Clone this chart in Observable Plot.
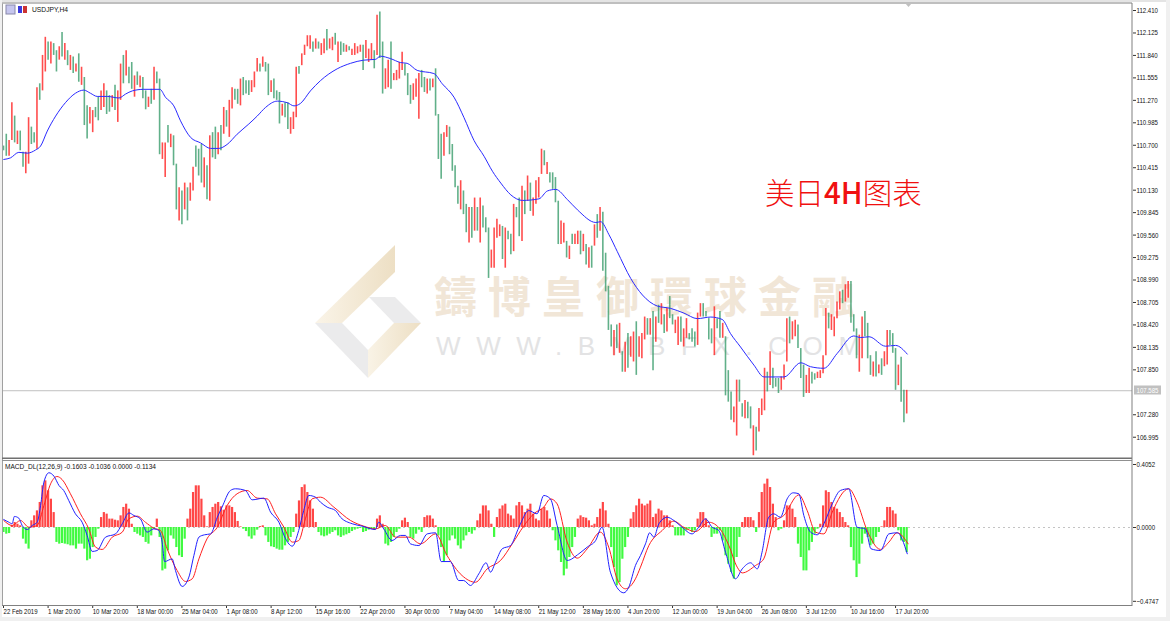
<!DOCTYPE html>
<html><head><meta charset="utf-8">
<script src="https://cdn.jsdelivr.net/npm/d3@7"></script>
<script src="https://cdn.jsdelivr.net/npm/@observablehq/plot@0.6"></script>
<style>
html,body{margin:0;padding:0;background:#fff;overflow:hidden}
#wrap{position:relative;width:1170px;height:621px;background:#fff;overflow:hidden;font-family:"Liberation Sans",sans-serif}
#wrap>svg,#wrap>div{position:absolute}
#wrap svg{background:transparent}
</style></head><body><div id="wrap">
<svg id="back" width="1170" height="621" style="left:0;top:0">
<defs>
<linearGradient id="b1" x1="0" x2="1" y1="0" y2="0"><stop offset="0" stop-color="#faf4e8"/><stop offset="1" stop-color="#eddfc4"/></linearGradient>
<linearGradient id="b2" x1="0" x2="1" y1="0" y2="0"><stop offset="0" stop-color="#f9f3e6"/><stop offset="1" stop-color="#eddfc4"/></linearGradient>
</defs>
<rect x="0" y="0" width="1170" height="2" fill="#e4e4e4"/>
<rect x="0" y="617" width="1170" height="4" fill="#f0f0f0"/>
<rect x="1166" y="0" width="4" height="621" fill="#f0f0f0"/>
<rect x="0" y="0" width="2" height="621" fill="#f0f0f0"/>
<polygon points="315,323 395,245 395,272 342,323" fill="url(#b1)"/>
<polygon points="315,323 342,323 368,350 368,378" fill="#ebebec"/>
<polygon points="368,350 394,323 421,323 368,378" fill="url(#b2)"/>
<polygon points="369,297 395,297 421,323 394,323" fill="#ebebec"/>
<text x="434" y="313" font-family="Noto Sans CJK TC" font-size="43" letter-spacing="11" fill="#f1e6d7" font-weight="700">鑄博皇御環球金融</text>
<text x="436" y="355" font-family="Liberation Sans" font-size="26" letter-spacing="15.6" fill="#e3e3e4">WWW.BMBFX.COM</text>
<rect x="1134" y="385.5" width="27" height="9" fill="#c0c0c0"/>
</svg>
<div id="mainPane" style="left:0;top:0"></div>
<div id="macdPane" style="left:0;top:459px"></div>
<svg id="front" width="1170" height="621" style="left:0;top:0;pointer-events:none">
<rect x="2" y="2.5" width="1130" height="1" fill="#808080"/>
<rect x="2" y="3.5" width="1" height="602" fill="#a0a0a0"/>
<rect x="2" y="457.5" width="1130" height="1.5" fill="#707070"/>
<rect x="2" y="460" width="1130" height="1" fill="#909090"/>
<rect x="2" y="605" width="1130" height="1" fill="#808080"/>
<rect x="1131.5" y="3" width="1" height="603" fill="#808080"/>
<polygon points="905,3 912,3 908.5,7" fill="#c0c0c0"/>
<rect x="6" y="5" width="9" height="9" fill="#c6c6ee" stroke="#8888aa"/>
<rect x="18" y="6" width="4" height="7" fill="#3b3bdc"/><rect x="23" y="6" width="4" height="7" fill="#cc3333"/>
<text x="32" y="12" font-family="Liberation Sans" font-size="7.8" fill="#111" textLength="36" lengthAdjust="spacingAndGlyphs">USDJPY,H4</text>
<text x="5" y="469" font-family="Liberation Sans" font-size="7.8" fill="#111" textLength="151" lengthAdjust="spacingAndGlyphs">MACD_DL(12,26,9) -0.1603 -0.1036 0.0000 -0.1134</text>
<text x="765" y="204" font-family="Noto Sans CJK SC" font-weight="300" font-size="29.5" fill="#f01010">美日<tspan font-weight="500">4H</tspan>图表</text>
</svg>
</div>
<script>
const highs=[110.69,110.84,110.76,111.24,111.07,110.88,110.88,110.61,110.61,111.05,
110.93,110.86,111.43,111.48,111.84,112.07,112.01,112.01,111.99,111.90,
111.95,112.13,111.99,111.90,111.84,111.82,111.73,111.86,111.69,111.56,
111.20,111.18,111.14,111.18,111.31,111.39,111.48,111.39,111.33,111.33,
111.46,111.39,111.73,111.84,111.90,111.69,111.75,111.58,111.63,111.58,
111.56,111.39,111.31,111.41,111.69,111.63,111.54,110.73,110.73,110.95,
110.84,110.82,110.46,110.16,110.12,110.22,110.16,110.22,110.42,110.69,
110.65,110.71,110.54,110.44,110.82,110.86,110.93,110.86,110.95,111.18,
111.14,111.27,111.43,111.41,111.41,111.54,111.56,111.52,111.52,111.52,
111.63,111.80,111.73,111.82,111.75,111.73,111.52,111.54,111.39,111.37,
111.22,111.24,111.24,111.05,111.12,111.69,111.70,
111.86,111.97,112.09,112.09,112.01,112.05,112.01,111.99,112.05,112.17,
112.05,112.07,112.12,112.01,112.01,111.99,111.97,111.95,111.92,111.99,
111.95,111.97,111.97,112.03,111.92,111.99,111.90,112.35,112.39,112.01,
111.67,111.78,112.01,111.61,111.65,111.75,111.88,111.73,111.61,111.46,
111.48,111.54,111.61,111.65,111.56,111.54,111.54,111.54,111.67,111.09,
110.84,110.86,110.95,110.93,110.71,110.44,110.18,110.25,110.12,109.95,
109.91,109.91,110.03,109.91,110.03,109.93,109.78,109.65,109.37,109.65,
109.76,109.69,109.67,109.65,109.61,109.57,109.95,109.91,110.03,110.18,
110.12,110.31,110.22,110.03,110.25,110.29,110.65,110.63,110.48,110.35,
110.35,110.29,109.99,109.74,109.71,109.48,109.42,109.57,109.57,109.61,
109.61,109.57,109.44,109.40,109.42,109.69,109.82,109.91,
109.85,109.33,108.91,108.42,108.35,108.42,108.44,108.08,108.20,108.31,
108.27,108.33,108.46,108.27,108.31,108.52,108.50,108.50,108.59,108.52,
108.67,108.69,108.55,108.63,108.78,108.55,108.48,108.52,108.52,108.37,
108.50,108.31,108.37,108.33,108.57,108.69,108.69,108.59,108.50,108.37,
108.65,108.50,108.59,108.44,108.27,107.84,107.57,107.38,107.72,107.72,
107.42,107.46,107.44,107.38,107.14,107.12,107.36,107.48,107.87,107.82,
108.08,107.87,107.74,107.74,107.76,107.91,108.50,108.52,108.46,108.48,
108.42,108.12,107.91,107.78,107.87,107.82,107.80,107.82,107.84,108.03,
108.63,108.57,108.55,108.52,108.71,108.84,108.86,108.93,108.97,108.97,
108.55,108.37,108.29,108.52,108.59,108.44,108.03,107.95,108.08,107.91,
107.99,108.08,108.35,108.35,108.31,108.12,107.91,108.01,107.59,107.59];
const lows=[110.63,110.56,110.56,110.76,110.73,110.71,110.63,110.42,110.34,110.46,
110.71,110.73,110.65,111.27,111.39,111.63,111.78,111.73,111.84,111.63,
111.78,111.82,111.78,111.71,111.65,111.61,111.63,111.50,111.46,110.95,
110.78,110.97,110.86,111.05,111.01,111.14,111.18,111.09,111.12,111.18,
111.14,110.99,111.27,111.48,111.58,111.48,111.41,111.31,111.46,111.43,
111.29,111.15,111.18,111.22,111.27,111.48,110.58,110.52,110.29,110.73,
110.67,110.44,109.88,109.74,109.69,109.88,109.74,109.99,110.12,110.42,
110.31,110.22,110.16,110.01,109.99,110.54,110.52,110.58,110.63,110.84,
110.93,110.80,111.16,111.27,111.22,111.20,111.33,111.35,111.33,111.37,
111.43,111.63,111.63,111.69,111.63,111.33,111.37,111.29,111.27,110.97,
111.07,111.05,110.90,110.84,110.90,111.05,111.60,
111.71,111.84,111.95,111.92,111.88,111.92,111.92,111.84,111.86,111.90,
111.92,111.90,111.97,111.75,111.84,111.88,111.88,111.90,111.84,111.84,
111.86,111.88,111.65,111.80,111.75,111.78,111.67,111.84,111.80,111.35,
111.41,111.43,111.41,111.52,111.52,111.54,111.65,111.58,111.33,111.22,
111.27,111.31,111.03,111.43,111.37,111.35,111.39,111.43,111.07,110.52,
110.27,110.56,110.80,110.58,110.37,110.16,109.95,109.88,109.82,109.59,
109.46,109.52,109.61,109.61,109.46,109.65,109.59,109.01,109.14,109.14,
109.52,109.54,109.25,109.14,109.50,109.31,109.35,109.78,109.54,109.48,
109.82,109.99,109.86,109.80,109.95,110.03,110.33,110.44,110.33,110.22,
110.14,109.97,109.44,109.44,109.46,109.27,109.25,109.44,109.44,109.44,
109.31,109.35,109.18,109.14,109.14,109.42,109.52,109.61,
109.10,108.84,108.35,108.14,108.03,108.12,108.06,107.82,107.82,107.87,
108.01,107.95,107.78,108.01,107.99,108.23,108.29,108.29,107.84,108.20,
108.44,108.42,108.31,108.33,108.50,108.42,108.31,108.16,108.20,108.14,
108.25,108.23,108.20,108.14,108.16,108.52,108.52,108.52,108.23,108.18,
108.03,108.37,108.25,108.25,107.52,107.44,107.21,107.18,107.01,107.44,
107.25,107.23,107.23,107.10,106.76,106.82,107.06,107.27,107.33,107.57,
107.65,107.61,107.63,107.55,107.59,107.72,107.95,108.18,108.23,108.27,
108.12,107.74,107.50,107.55,107.55,107.67,107.72,107.74,107.74,107.80,
108.03,108.37,108.35,108.27,108.50,108.61,108.69,108.71,108.76,108.44,
108.33,107.99,107.82,107.99,108.27,107.99,107.78,107.76,107.76,107.80,
107.78,107.89,107.91,108.16,108.06,107.59,107.65,107.44,107.18,107.29];
const directions=`d d u u d u d d u u
d d u d u u d u d d
u d u d u d u d u d
d u u d d u u d d u
d u u d u d d u d u
d d u d u d d u u d
u d d u d u d u u d
d d u d u d d u d u
d u u d d u d d d u
u u d u d d u d d d
u d d u u u d u u u
u d u d u u d u u d
u d d u d u u u u d
u u u d u d d u u d
u u u u d d d u u u
d d u d u d d d u u
d d d d u d d u d u
d u d d d u u u u d
u d d u d d u d u d
u u u u d u d d d d
u u d u d u u d u d
u d u d u d d d d u
d u d u d u u d u u
u d u d u d u d u d
d u u d u u d d d u
u d d d d u d d u d
d d u u d d u d d u
d u u u d u d d d u
u u d u u d d d u u
d d u u u u d u u u
u d u u d d d u u d
d d u d u d u u d d
d u d d u`.split(/\s+/);
const maIndex=[0.1,2.5,5.5,8.5,11.5,13.3,15.7,18.7,22.2,25.8,28.8,31.2,33.6,37.2,41.4,43.8,46.2,50.3,56.1,58.1,61.1,63.5,67.1,70.7,74.3,77.2,80.2,83.8,88,91,94,98.2,101.8,104.2,106.5,
110.1,113.7,119.7,124.5,129.2,133.4,135.2,138.8,142.4,144.8,148.4,154.4,157.4,161.6,165.2,168.8,172.4,175.4,178.4,182,186.2,192.1,195.1,198.1,202.3,205.9,212.5,214.2,217.2,220.2,225,229.2,234.5,239.3,244.1,248.9,253.7,257.8,260.8,264.4,269.2,272.8,280,286,289.5,294.3,299.1,305,307.5,310.5,316.4,320,324.2];
const maValues=[110.52,110.54,110.61,110.60,110.64,110.69,110.88,111.07,111.24,111.36,111.40,111.36,111.32,111.32,111.30,111.35,111.39,111.41,111.41,111.31,111.20,111.01,110.80,110.73,110.66,110.66,110.71,110.84,110.97,111.07,111.18,111.26,111.24,111.20,111.23,
111.39,111.52,111.67,111.74,111.78,111.79,111.83,111.80,111.75,111.74,111.65,111.61,111.48,111.31,111.05,110.76,110.56,110.37,110.22,110.07,110.00,110.02,110.12,110.14,110.01,109.88,109.72,109.73,109.565,109.35,109.01,108.80,108.66,108.63,108.57,108.50,108.52,108.49,108.31,108.14,107.91,107.76,107.76,107.94,107.89,107.87,108.06,108.28,108.26,108.27,108.15,108.16,108.05];
const histogram=[-.032,-.043,-.039,.011,.032,.021,.011,-.075,-.107,-.139,.043,.075,.107,.161,.268,.30,.236,.182,.096,-.096,-.107,-.103,-.107,-.111,-.118,-.118,-.139,-.107,-.107,-.139,-.214,-.204,-.129,-.064,-.011,.064,.096,.086,.054,.054,.047,.043,.075,.129,.15,.118,.021,-.032,-.043,-.054,-.064,-.096,-.107,-.054,-.011,.054,-.064,-.279,-.268,-.15,-.054,-.075,-.129,-.182,-.193,-.075,.054,.118,.225,.268,.268,.182,.075,.004,.096,.129,.15,.161,.133,.111,.139,.139,.129,.096,.039,.004,-.011,-.026,-.06,-.075,-.054,-.017,.006,.011,-.054,-.096,-.124,-.129,-.139,-.146,-.146,-.118,-.096,-.064,-.032,.086,.171,.257,.274,.225,.171,.118,.032,-.032,
-.054,-.06,-.054,-.043,-.032,-.021,-.054,-.064,-.054,-.047,-.039,-.026,-.017,-.011,-.006,-.032,-.026,-.017,-.011,-.017,.054,.075,.021,-.107,-.118,-.096,-.064,-.032,-.011,.043,.06,.032,-.064,-.075,-.043,-.017,-.032,.064,.075,.075,.054,.011,-.054,-.129,-.225,-.182,-.086,-.054,-.075,-.118,-.139,-.086,-.054,-.032,-.043,-.021,.043,.086,.139,.139,.107,.021,-.064,.064,.118,.139,.15,.086,.075,.054,.139,.161,.139,.096,.118,.15,.086,.054,.043,.118,.129,.107,.054,-.021,-.086,-.15,-.225,-.311,-.268,-.193,-.129,-.064,.054,.075,.064,.06,.043,.011,.021,.064,.118,.161,.107,.021,-.129,-.257,-.375,-.354,-.204,-.129,-.064,.054,.096,.139,.182,
.15,.139,.15,.171,.064,.086,.118,.107,.075,.075,.043,.011,-.054,-.054,-.054,-.054,-.021,-.011,-.032,-.021,.054,.096,.096,.054,.011,-.064,-.043,-.043,-.021,-.086,-.182,-.236,-.289,-.332,-.193,-.064,.032,.064,.064,.064,.043,-.032,.096,.225,.279,.311,.257,.15,.064,-.021,-.011,.043,.139,.139,.118,.064,-.107,-.193,-.279,-.279,-.15,-.096,-.043,-.011,.021,.139,.236,.225,.161,.129,.118,.096,.064,.032,.011,-.129,-.214,-.322,-.236,-.107,-.043,-.064,-.118,-.107,-.064,-.032,.004,.043,.129,.129,.107,.086,-.021,-.086,-.096,-.161];
const blueIndex=[.1,1.9,3.1,3.9,5.5,6.7,8.5,10.3,12.1,13.3,14.5,16.3,18.1,19.9,21.6,23.4,25.8,28.2,30,31.8,33.6,36.6,40.2,42.6,45,46.8,49.1,51.5,53.9,55.7,56.9,57.8,60.5,61.7,64.1,66.5,68.3,70.1,72.1,74.3,76.7,78.4,81.4,83.2,86.8,89.2,93.4,95.8,98.8,101.2,103.6,105.9,107.7,109.5,111.9,
113.7,116.1,119.1,120.9,125.1,128.6,133.4,134.6,136.4,139.4,142.4,144.2,146,149,152,155,157,160.3,163.3,165.1,167.5,170.5,173.1,174.7,176.5,178.9,181.9,184.9,188.4,191.4,193.8,196.2,198.6,202.2,206.4,209.4,212.4,214.7,217.7,222.5,224.3,226.7,
228.5,230.3,231.8,233.3,235.1,238.1,240.5,243.4,247,249.4,251.8,254.2,256.6,259,262.6,265,268,270.4,272.1,274.5,276.3,278.7,281.1,283.3,285.3,287.1,289.5,291.9,294.3,297.3,300.2,303.2,306.2,309.2,311.2,314.6,317.6,320.6,324.2];
const blueValues=[.051,.034,.024,.071,.060,.013,-.013,.013,.034,.141,.292,.352,.330,.270,.238,.174,.088,.034,-.051,-.154,-.148,-.062,-.041,.024,.094,.077,.056,-.030,-.009,-.019,-.094,-.219,-.202,-.277,-.379,-.319,-.180,-.062,-.047,-.041,.066,.131,.238,.249,.238,.178,.189,.099,.034,-.073,-.120,-.019,.109,.206,.195,
.163,.131,.109,.066,.024,.009,-.013,.034,-.009,-.084,-.051,-.051,-.105,-.116,-.041,-.034,-.219,-.219,-.341,-.341,-.373,-.298,-.227,-.287,-.223,-.137,-.116,.002,.109,.088,.206,.184,.013,-.212,-.169,-.126,-.084,.002,-.287,-.420,-.384,-.244,
-.180,-.105,-.034,-.062,.024,.066,.045,.002,-.041,.002,.056,.002,-.019,-.159,-.330,-.266,-.227,-.266,-.159,.066,.088,.066,.184,.223,.217,.077,-.030,-.047,.024,.152,.238,.249,.002,-.009,-.137,-.148,-.041,-.034,-.169];
const redIndex=[.1,3.1,6.1,9.1,12.1,14.5,16.9,19.2,21,24,27.6,30.6,33,35.4,39,42.6,45,48,50.9,53.9,56.3,58.7,62.3,65.3,67.7,70.1,73,76.7,80.2,83.8,87.4,91,94.6,97.6,100.6,103.6,105.9,108.3,110.7,
113.7,118.5,124.5,129.2,133.4,137,140.6,145.4,149.6,155,159.1,164.5,169.3,173.5,178.3,182.5,186.6,190.2,193.8,196.2,198.6,202.2,205.8,209.4,214.1,217.1,220.1,223.1,226.7,
228.5,231.5,236.3,240.5,244,248.2,253,257.2,260.2,263.2,265,269.8,272.7,276.3,279.9,285.3,288.3,291.3,294.3,297.3,303.2,306.2,309.8,314.6,317.6,320.6,324.5];
const redValues=[.045,.013,.045,.002,.013,.141,.281,.328,.309,.217,.088,-.009,-.126,-.141,-.062,-.030,.056,.073,.034,-.004,-.019,-.137,-.277,-.347,-.330,-.202,-.073,.002,.141,.217,.238,.189,.184,.088,.002,-.094,-.084,.056,.184,
.195,.131,.045,.009,-.009,.013,-.062,-.062,-.105,-.041,-.180,-.309,-.352,-.266,-.212,-.105,.009,.088,.131,.184,.152,-.094,-.197,-.137,-.030,-.126,-.330,-.394,-.330,
-.255,-.116,-.019,.041,.002,-.026,.034,-.013,-.116,-.255,-.292,-.244,-.202,.034,.077,.210,.109,-.030,-.041,.099,.249,.163,-.019,-.141,-.094,-.034,-.105];
const priceTicks=[112.41,112.125,111.84,111.555,111.27,110.985,110.7,110.415,110.13,109.845,109.56,109.275,108.99,108.705,108.42,108.135,107.85,107.28,106.995];
const lastPrice=107.585;
const macdTicks=[0.4052,0,-0.4747];
const timeLabels=["22 Feb 2019","1 Mar 20:00","10 Mar 20:00","18 Mar 00:00","25 Mar 04:00","1 Apr 08:00","8 Apr 12:00","15 Apr 16:00","22 Apr 20:00","30 Apr 00:00","7 May 04:00","14 May 08:00","21 May 12:00","28 May 16:00","4 Jun 20:00","12 Jun 00:00","19 Jun 04:00","26 Jun 08:00","3 Jul 12:00","10 Jul 16:00","17 Jul 20:00"];

const FONT='"Liberation Sans",sans-serif';
const xDomain=[0,405];
const candles=highs.map((h,i)=>({i,h,l:lows[i],up:directions[i]==="u"}));
const ma=maIndex.map((i,k)=>({i,v:maValues[k]}));
const hist=histogram.map((v,i)=>({i,v}));
const blue=blueIndex.map((i,k)=>({i,v:blueValues[k]}));
const red=redIndex.map((i,k)=>({i,v:redValues[k]}));

const main=Plot.plot({
  width:1170,height:459,marginLeft:3,marginRight:38,marginTop:3,marginBottom:1,
  style:{background:"transparent",fontFamily:FONT,fontSize:"7.6px",color:"#111"},
  x:{domain:xDomain,axis:null},
  y:{domain:[106.725,112.499],axis:null},
  marks:[
    Plot.ruleY([lastPrice],{stroke:"#c0c0c0",strokeWidth:1}),
    Plot.ruleX(candles,{x:"i",y1:"l",y2:"h",stroke:d=>d.up?"#ff2020":"#3a9c6c",strokeWidth:1.6,strokeOpacity:0.8}),
    Plot.line(ma,{x:"i",y:"v",stroke:"#2a2aff",strokeWidth:1,curve:"monotone-x"}),
    Plot.axisY({anchor:"right",ticks:priceTicks,tickFormat:d3.format(".3f"),tickSize:3,tickPadding:1,label:null,stroke:"#333",fontSize:7.6}),
    Plot.text([lastPrice],{x:()=>405,y:d=>d,text:d=>d3.format(".3f")(d),textAnchor:"start",dx:4,fill:"#fff",fontSize:7.6})
  ]
});
document.getElementById("mainPane").appendChild(main);

const macd=Plot.plot({
  width:1170,height:162,marginLeft:3,marginRight:38,marginTop:1,marginBottom:16,
  style:{background:"transparent",fontFamily:FONT,fontSize:"7.6px",color:"#111"},
  x:{domain:xDomain,axis:null},
  y:{domain:[-0.5016,0.4309],axis:null},
  marks:[
    Plot.ruleY([0],{stroke:"#c4c4c4",strokeDasharray:"2,3",strokeWidth:1}),
    Plot.ruleX(hist,{x:"i",y1:()=>0,y2:"v",stroke:d=>d.v>=0?"#ff4646":"#40fa40",strokeWidth:2.2}),
    Plot.line(red,{x:"i",y:"v",stroke:"#ff1f1f",strokeWidth:1,curve:"monotone-x"}),
    Plot.line(blue,{x:"i",y:"v",stroke:"#2020ff",strokeWidth:1,curve:"monotone-x"}),
    Plot.axisY({anchor:"right",ticks:macdTicks,tickFormat:d=>d===0?"0.0000":d3.format(".4f")(d),tickSize:3,tickPadding:1,label:null,stroke:"#333",fontSize:7.6}),
    Plot.axisX({anchor:"bottom",ticks:timeLabels.map((_,k)=>k*16),tickFormat:d=>timeLabels[d/16],tickSize:3,tickPadding:0,textAnchor:"start",label:null,stroke:"#333",fontSize:7.6})
  ]
});
document.getElementById("macdPane").appendChild(macd);
// The reference's axis type is narrower than any installed face: condense the glyphs.
for (const svg of [main,macd]) for (const t of svg.querySelectorAll("text")) {
  const w=t.getComputedTextLength();
  if (w>0){t.setAttribute("textLength",(w*0.8).toFixed(1));t.setAttribute("lengthAdjust","spacingAndGlyphs");}
}
</script></body></html>
